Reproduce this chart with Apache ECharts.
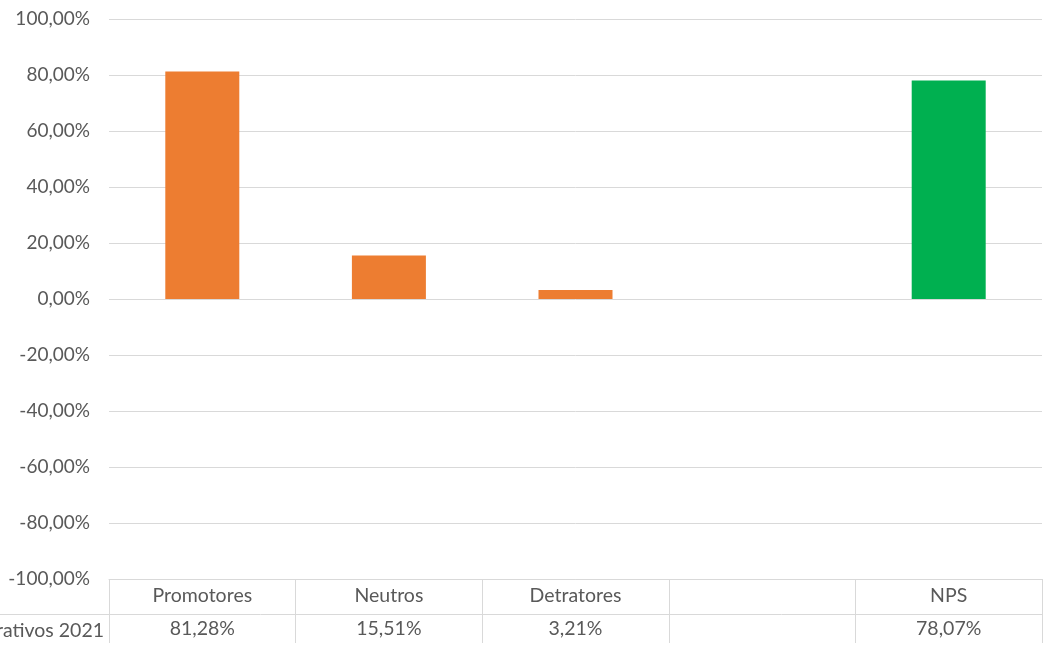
<!DOCTYPE html>
<html>
<head>
<meta charset="utf-8">
<script src="https://cdn.jsdelivr.net/npm/echarts@6/dist/echarts.min.js"></script>
<style>
html,body{margin:0;padding:0;background:#fff;}
#main{width:1049px;height:645px;}
</style>
</head>
<body>
<div id="main"></div>
<script>
var categories = ['Promotores', 'Neutros', 'Detratores', '', 'NPS'];
var values = [81.28, 15.51, 3.21, null, 78.07];
var barColors = ['#ED7D31', '#ED7D31', '#ED7D31', '#ED7D31', '#00B050'];
var seriesName = 'Administrativos 2021';
var yTicks = { min: -100, max: 100, interval: 20 };

function fmt(v) {
  if (v === null || v === undefined) return '';
  return v.toFixed(2).replace('.', ',') + '%';
}

var chart = echarts.init(document.getElementById('main'));
var font = 'Lato, "Noto Sans", sans-serif';
var txt = '#595959';
var grid = '#D9D9D9';

chart.setOption({
  animation: false,
  grid: { left: 109, right: 7, top: 19, bottom: 64 },
  xAxis: {
    type: 'category',
    data: categories,
    boundaryGap: true,
    axisLine: { show: true, onZero: false, lineStyle: { color: grid, width: 1 } },
    axisTick: { show: true, length: 64, interval: 0, lineStyle: { color: grid, width: 1 } },
    axisLabel: {
      interval: 0,
      margin: 0,
      formatter: function (name, idx) {
        return '{a|' + name + '}\n{a|' + fmt(values[idx]) + '}';
      },
      rich: {
        a: { fontFamily: font, fontSize: 19.5, color: txt, lineHeight: 33, height: 33, align: 'center' }
      }
    }
  },
  yAxis: {
    type: 'value',
    min: yTicks.min,
    max: yTicks.max,
    interval: yTicks.interval,
    axisLine: { show: false },
    axisTick: { show: false },
    splitLine: { lineStyle: { color: grid, width: 1 } },
    axisLabel: {
      margin: 19,
      fontFamily: font,
      fontSize: 19,
      color: txt,
      formatter: function (v) { return fmt(v); }
    }
  },
  series: [{
    name: seriesName,
    type: 'bar',
    barWidth: 74,
    data: values.map(function (v, i) {
      return { value: v, itemStyle: { color: barColors[i] } };
    })
  }],
  graphic: [
    {
      type: 'line',
      shape: { x1: 0, y1: 614.5, x2: 1042, y2: 614.5 },
      style: { stroke: grid, lineWidth: 1 }
    },
    {
      type: 'text',
      x: 104,
      y: 631,
      style: {
        text: seriesName,
        fontFamily: font,
        fontSize: 19.5,
        fill: txt,
        textAlign: 'right',
        textVerticalAlign: 'middle'
      }
    }
  ]
});
</script>
</body>
</html>
